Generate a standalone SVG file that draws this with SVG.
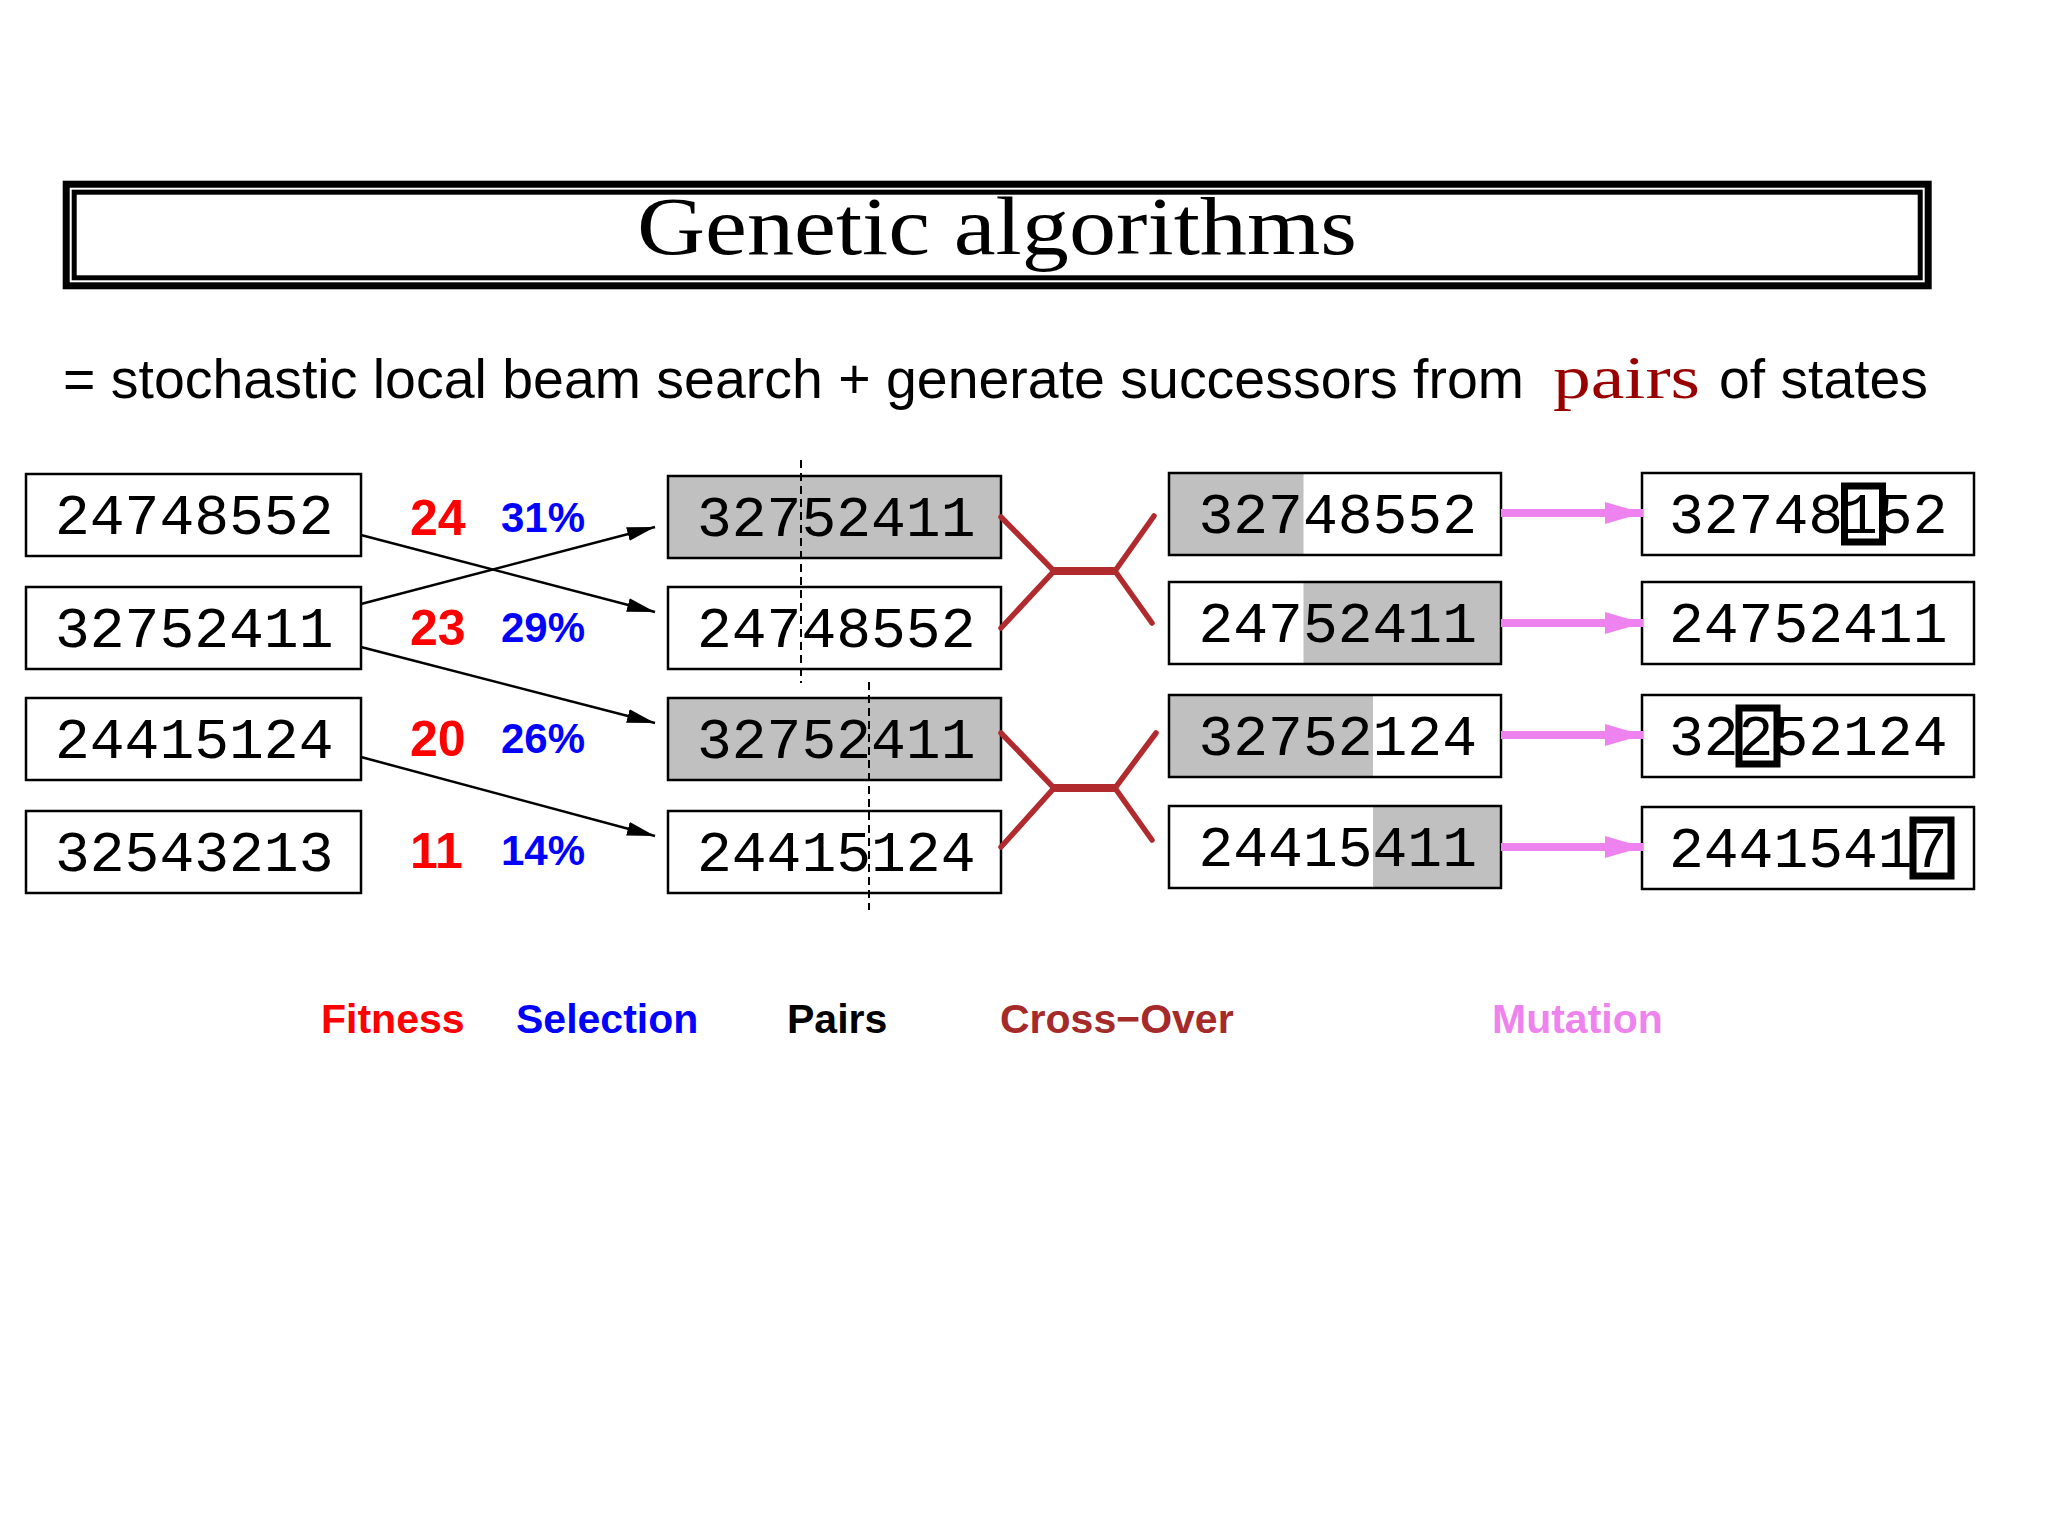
<svg xmlns="http://www.w3.org/2000/svg" width="2048" height="1536" viewBox="0 0 2048 1536">
<defs>
<style>
.box{fill:#ffffff;stroke:#000;stroke-width:2.5}
.gray{fill:#c0c0c0}
.dig{font-family:"Liberation Mono","DejaVu Sans Mono",monospace;font-size:58px;fill:#000}
.fit{font-family:"Liberation Sans",Arial,sans-serif;font-weight:bold;font-size:50px;fill:#ff0000}
.pct{font-family:"Liberation Sans",Arial,sans-serif;font-weight:bold;font-size:42px;fill:#0000ff}
.lab{font-family:"Liberation Sans",Arial,sans-serif;font-weight:bold;font-size:41px}
.sel{stroke:#000;stroke-width:2.5;fill:none}
.xo{stroke:#b02a2e;stroke-width:5.5;fill:none;stroke-linecap:round}
.xbar{stroke:#b02a2e;stroke-width:8;fill:none}
.mut{stroke:#ee82ee;stroke-width:8;fill:none}
.cut{stroke:#000;stroke-width:2;stroke-dasharray:8 5;fill:none}
.hl{fill:none;stroke:#000;stroke-width:7}
</style>
<marker id="blk" markerUnits="userSpaceOnUse" markerWidth="30" markerHeight="14" refX="28" refY="7" orient="auto">
<path d="M0,0 L28,7 L0,14 z" fill="#000"/>
</marker>
<marker id="pnk" markerUnits="userSpaceOnUse" markerWidth="40" markerHeight="22" refX="38" refY="11" orient="auto">
<path d="M0,0 L38,11 L0,22 z" fill="#ee82ee"/>
</marker>
</defs>
<rect width="2048" height="1536" fill="#ffffff"/>

<g id="title">
<rect x="66.2" y="184.2" width="1862" height="101.6" fill="none" stroke="#000" stroke-width="7"/>
<rect x="74.2" y="192.2" width="1846" height="85.6" fill="none" stroke="#000" stroke-width="5"/>
<text x="637" y="254" font-family="Liberation Serif,'Times New Roman',serif" font-size="82" textLength="720" lengthAdjust="spacingAndGlyphs">Genetic algorithms</text>
</g>

<g id="subtitle">
<text y="398" font-size="55" font-family="Liberation Sans,Arial,sans-serif"><tspan x="63" textLength="1461" lengthAdjust="spacingAndGlyphs">= stochastic local beam search + generate successors from</tspan><tspan x="1553" font-family="Liberation Serif,'Times New Roman',serif" fill="#990000" font-size="62" textLength="147" lengthAdjust="spacingAndGlyphs">pairs</tspan><tspan x="1719" textLength="209" lengthAdjust="spacingAndGlyphs">of states</tspan></text>
</g>

<g id="population">
<g id="p1"><rect class="box" x="26" y="474" width="335" height="82"/><text class="dig" x="55" y="534">24748552</text></g>
<g id="p2"><rect class="box" x="26" y="587" width="335" height="82"/><text class="dig" x="55" y="647">32752411</text></g>
<g id="p3"><rect class="box" x="26" y="698" width="335" height="82"/><text class="dig" x="55" y="758">24415124</text></g>
<g id="p4"><rect class="box" x="26" y="811" width="335" height="82"/><text class="dig" x="55" y="871">32543213</text></g>
</g>

<g id="fitness">
<text class="fit" x="410" y="535">24</text>
<text class="fit" x="410" y="645">23</text>
<text class="fit" x="410" y="756">20</text>
<text class="fit" x="410" y="868">11</text>
</g>
<g id="selection">
<text class="pct" x="501" y="532">31%</text>
<text class="pct" x="501" y="642">29%</text>
<text class="pct" x="501" y="753">26%</text>
<text class="pct" x="501" y="865">14%</text>
</g>

<g id="pairs">
<g id="m1"><rect class="box" x="668" y="476" width="333" height="82" style="fill:#c0c0c0"/><text class="dig" x="697" y="536">32752411</text></g>
<g id="m2"><rect class="box" x="668" y="587" width="333" height="82"/><text class="dig" x="697" y="647">24748552</text></g>
<g id="m3"><rect class="box" x="668" y="698" width="333" height="82" style="fill:#c0c0c0"/><text class="dig" x="697" y="758">32752411</text></g>
<g id="m4"><rect class="box" x="668" y="811" width="333" height="82"/><text class="dig" x="697" y="871">24415124</text></g>
<line class="cut" x1="801" y1="460" x2="801" y2="683"/>
<line class="cut" x1="869" y1="682" x2="869" y2="910"/>
</g>

<g id="crossover">
<g id="c1"><rect x="1169" y="473" width="332" height="82" fill="#fff"/><rect class="gray" x="1169" y="473" width="134.5" height="82"/><rect x="1169" y="473" width="332" height="82" fill="none" stroke="#000" stroke-width="2.5"/><text class="dig" x="1198.5" y="533">32748552</text></g>
<g id="c2"><rect x="1169" y="582" width="332" height="82" fill="#fff"/><rect class="gray" x="1303.5" y="582" width="197.5" height="82"/><rect x="1169" y="582" width="332" height="82" fill="none" stroke="#000" stroke-width="2.5"/><text class="dig" x="1198.5" y="642">24752411</text></g>
<g id="c3"><rect x="1169" y="695" width="332" height="82" fill="#fff"/><rect class="gray" x="1169" y="695" width="204" height="82"/><rect x="1169" y="695" width="332" height="82" fill="none" stroke="#000" stroke-width="2.5"/><text class="dig" x="1198.5" y="755">32752124</text></g>
<g id="c4"><rect x="1169" y="806" width="332" height="82" fill="#fff"/><rect class="gray" x="1373" y="806" width="128" height="82"/><rect x="1169" y="806" width="332" height="82" fill="none" stroke="#000" stroke-width="2.5"/><text class="dig" x="1198.5" y="866">24415411</text></g>
</g>

<g id="mutation">
<g id="u1"><rect class="box" x="1642" y="473" width="332" height="82"/><text class="dig" x="1669" y="533">32748152</text><rect class="hl" x="1844.5" y="486" width="38" height="56"/></g>
<g id="u2"><rect class="box" x="1642" y="582" width="332" height="82"/><text class="dig" x="1669" y="642">24752411</text></g>
<g id="u3"><rect class="box" x="1642" y="695" width="332" height="82"/><text class="dig" x="1669" y="755">32252124</text><rect class="hl" x="1739" y="708" width="38" height="56"/></g>
<g id="u4"><rect class="box" x="1642" y="807" width="332" height="82"/><text class="dig" x="1669" y="867">24415417</text><rect class="hl" x="1913" y="820" width="38" height="56"/></g>
</g>

<g id="connectors">
<line class="sel" x1="361" y1="535" x2="655" y2="612" marker-end="url(#blk)"/>
<line class="sel" x1="361" y1="604" x2="655" y2="527" marker-end="url(#blk)"/>
<line class="sel" x1="361" y1="647" x2="655" y2="723" marker-end="url(#blk)"/>
<line class="sel" x1="361" y1="757" x2="655" y2="836" marker-end="url(#blk)"/>
<path class="xo" d="M1001,517 L1054,571 L1001,628 M1154,516 L1115,571 L1152,623"/>
<line class="xbar" x1="1054" y1="571" x2="1115" y2="571"/>
<path class="xo" d="M1001,733 L1054,788 L1001,847 M1156,733 L1115,788 L1152,840"/>
<line class="xbar" x1="1054" y1="788" x2="1115" y2="788"/>
<line class="mut" x1="1501" y1="513" x2="1643" y2="513" marker-end="url(#pnk)"/>
<line class="mut" x1="1501" y1="623" x2="1643" y2="623" marker-end="url(#pnk)"/>
<line class="mut" x1="1501" y1="735" x2="1643" y2="735" marker-end="url(#pnk)"/>
<line class="mut" x1="1501" y1="847" x2="1643" y2="847" marker-end="url(#pnk)"/>
</g>

<g id="legend">
<text class="lab" x="321" y="1033" fill="#ff0000">Fitness</text>
<text class="lab" x="516" y="1033" fill="#0000ff">Selection</text>
<text class="lab" x="787" y="1033" fill="#000000">Pairs</text>
<text class="lab" x="1000" y="1033" fill="#a52a2a">Cross−Over</text>
<text class="lab" x="1492" y="1033" fill="#ee82ee">Mutation</text>
</g>
</svg>
